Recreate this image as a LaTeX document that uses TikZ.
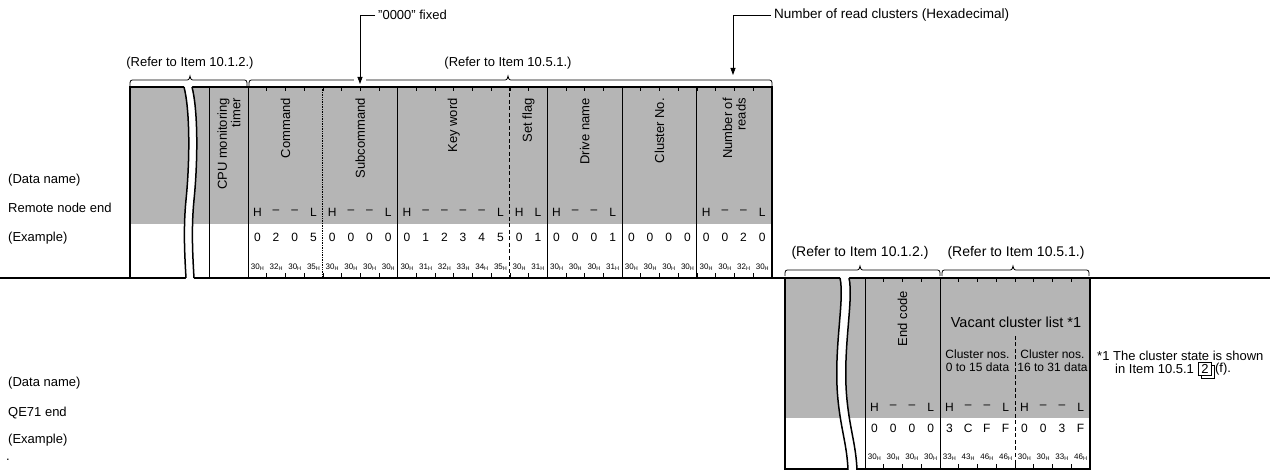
\documentclass[tikz,border=0pt]{standalone}
\usepackage{fontspec}
\setmainfont{Liberation Sans}
\usetikzlibrary{arrows.meta,shadows,calc}
\definecolor{shd}{gray}{0.71}
\newcommand\mybrc[4]{\draw[brc] (#1,#4+6) .. controls (#1,#4) .. (#1+5,#4) -- (#3-5,#4) .. controls (#3-1,#4) .. (#3,#4-4) .. controls (#3+1,#4) .. (#3+5,#4) -- (#2-5,#4) .. controls (#2,#4) .. (#2,#4+6);}
\newcommand\hsub[1]{#1\raisebox{-1.3pt}{\fontsize{5.5}{5.5}\selectfont H}}
\begin{document}
\begin{tikzpicture}[x=1pt,y=-1pt,
  lbl/.style={font=\fontsize{13}{14}\selectfont, inner sep=0pt},
  vlbl/.style={font=\fontsize{13}{13.5}\selectfont, inner sep=0pt, rotate=90, anchor=east, align=right},
  chr/.style={font=\fontsize{12}{12}\selectfont, inner sep=0pt},
  hxs/.style={font=\fontsize{8}{8}\selectfont, inner sep=0pt},
  frm/.style={line width=1.4pt},
  col/.style={line width=1pt},
  thn/.style={line width=0.7pt},
  dsh/.style={line width=0.7pt, dash pattern=on 4pt off 2.5pt},
  arr/.style={line width=0.8pt, -{Triangle[length=7pt,width=5pt]}},
  brc/.style={line width=0.8pt},
  tck/.style={line width=0.6pt},
  brk/.style={line width=1.5pt}]
\useasboundingbox (0,0) rectangle (1270,470);

% ---------- top frame (remote node end) ----------
\fill[shd] (130,87) rectangle (772,224);
\draw[col] (209,87) -- (209,278);
\draw[col] (248,87) -- (248,278);
\draw[thn, densely dotted] (322.8,87) -- (322.8,278);
\draw[thn] (397.6,87) -- (397.6,278);
\draw[dsh] (509.8,87) -- (509.8,278);
\draw[col] (547.2,87) -- (547.2,278);
\draw[thn] (622,87) -- (622,278);
\draw[col] (696.8,87) -- (696.8,278);
\foreach \k in {1,...,27} {
  \draw[tck] (248+\k*18.7,87) -- ++(0,4);
  \draw[tck] (248+\k*18.7,278) -- ++(0,-5);
}
\draw[frm] (130,278) -- (130,87) -- (772,87) -- (772,278);
\draw[line width=1.8pt] (0,278) -- (1270,278);

% break (top)
\fill[white] (184,86) .. controls (190,110) and (190,160) .. (186,200) .. controls (183,230) and (185,260) .. (186,279) -- (194,279) .. controls (193,260) and (191,230) .. (194,200) .. controls (198,160) and (198,110) .. (192,86) -- cycle;
\draw[brk] (184,87) .. controls (190,110) and (190,160) .. (186,200) .. controls (183,230) and (185,260) .. (186,278);
\draw[brk] (192,87) .. controls (198,110) and (198,160) .. (194,200) .. controls (191,230) and (193,260) .. (194,278);

% rotated data names
\node[vlbl] (cpu) at (229,98) {CPU monitoring\\timer};
\node[vlbl] (cmd) at (285.4,98) {Command};
\node[vlbl] (sub) at (360.2,98) {Subcommand};
\node[vlbl] (kw) at (453.7,98) {Key word};
\node[vlbl] (sf) at (528.5,98) {Set flag};
\node[vlbl] (dn) at (584.6,98) {Drive name};
\node[vlbl] (cn) at (659.4,98) {Cluster No.};
\node[vlbl] (nr) at (734.2,98) {Number of\\reads};

% characters
\foreach \cs/\hl/\dg/\hx [count=\k] in {
 248/{H,--,--,L}/{0,2,0,5}/{30,32,30,35},
 322.8/{H,--,--,L}/{0,0,0,0}/{30,30,30,30},
 397.6/{H,--,--,--,--,L}/{0,1,2,3,4,5}/{30,31,32,33,34,35},
 509.8/{H,L}/{0,1}/{30,31},
 547.2/{H,--,--,L}/{0,0,0,1}/{30,30,30,31},
 622/{\relax,\relax,\relax,\relax}/{0,0,0,0}/{30,30,30,30},
 696.8/{H,--,--,L}/{0,0,2,0}/{30,30,32,30}} {
  \foreach \c [count=\i] in \hl {\node[chr] (th\k-\i) at (\cs+\i*18.7-9.35,212) {\c};}
  \foreach \c [count=\i] in \dg {\node[chr] (td\k-\i) at (\cs+\i*18.7-9.35,237) {\c};}
  \foreach \c [count=\i] in \hx {\node[hxs] (tx\k-\i) at (\cs+\i*18.7-9.35,267) {\hsub{\c}};}
}

% braces and references (top)
\mybrc{130}{247}{190}{80}
\mybrc{249}{772}{508}{80}
\node[lbl] (r1) at (190,63) {(Refer to Item 10.1.2.)};
\node[lbl] (r2) at (508,63) {(Refer to Item 10.5.1.)};
\fill[white] (354,77) rectangle (366,83);

% annotations with arrows
\node[lbl, anchor=west, inner xsep=3pt] (fix) at (375,15) {"0000" fixed};
\coordinate (fixtip) at (360,84);
\draw[arr] (fix.west) -| (fixtip);
\node[lbl, font=\fontsize{13.5}{14}\selectfont, anchor=west, inner xsep=3pt] (nrc) at (771,15) {Number of read clusters (Hexadecimal)};
\coordinate (nrtip) at (733,75);
\draw[arr] (nrc.west) -| (nrtip);

% ---------- bottom frame (QE71 end) ----------
\fill[shd] (785,278) rectangle (1090,418);
\draw[col] (865,278) -- (865,469);
\draw[col] (940,278) -- (940,469);
\draw[dsh] (1015,336) -- (1015,469);
\foreach \k in {1,...,11} {
  \draw[tck] (865+\k*18.75,278) -- ++(0,4);
  \draw[tck] (865+\k*18.75,469) -- ++(0,-5);
}
\draw[frm] (785,278) -- (785,469) -- (1090,469) -- (1090,278);
\draw[line width=1.8pt] (780,278) -- (1095,278);

% break (bottom)
\fill[white] (840,277) .. controls (845,300) and (833,350) .. (838,400) .. controls (841,430) and (847,445) .. (848,471) -- (857,471) .. controls (856,445) and (850,430) .. (847,400) .. controls (842,350) and (854,300) .. (849,277) -- cycle;
\draw[brk] (840,278) .. controls (845,300) and (833,350) .. (838,400) .. controls (841,430) and (847,445) .. (848,470);
\draw[brk] (849,278) .. controls (854,300) and (842,350) .. (847,400) .. controls (850,430) and (856,445) .. (857,470);

\node[vlbl] (ec) at (902.5,291) {End code};
\node[lbl, font=\fontsize{14.5}{15}\selectfont] (vcl) at (1016,322) {Vacant cluster list *1};
\node[font=\fontsize{12}{13}\selectfont, inner sep=0pt, align=center] (cl1) at (977.5,361) {Cluster nos.\\0 to 15 data};
\node[font=\fontsize{12}{13}\selectfont, inner sep=0pt, align=center] (cl2) at (1052.5,361) {Cluster nos.\\16 to 31 data};

\foreach \cs/\hl/\dg/\hx [count=\k] in {
 865/{H,--,--,L}/{0,0,0,0}/{30,30,30,30},
 940/{H,--,--,L}/{3,C,F,F}/{33,43,46,46},
 1015/{H,--,--,L}/{0,0,3,F}/{30,30,33,46}} {
  \foreach \c [count=\i] in \hl {\node[chr] (bh\k-\i) at (\cs+\i*18.75-9.375,407) {\c};}
  \foreach \c [count=\i] in \dg {\node[chr] (bd\k-\i) at (\cs+\i*18.75-9.375,428) {\c};}
  \foreach \c [count=\i] in \hx {\node[hxs] (bx\k-\i) at (\cs+\i*18.75-9.375,457) {\hsub{\c}};}
}

\mybrc{785}{940}{860}{270}
\mybrc{942}{1089}{1013}{270}
\node[lbl, font=\fontsize{14}{15}\selectfont] (r3) at (860,253) {(Refer to Item 10.1.2.)};
\node[lbl, font=\fontsize{14}{15}\selectfont] (r4) at (1016,253) {(Refer to Item 10.5.1.)};

% footnote
\node[lbl, anchor=west] (fn1) at (1097,356) {*1 The cluster state is shown};
\node[lbl, anchor=west] (fn2) at (1115,369) {in Item 10.5.1};
\node[lbl, anchor=west, draw, line width=0.7pt, fill=white, minimum width=13pt, minimum height=13pt,
  copy shadow={draw, line width=0.7pt, fill=white, shadow xshift=2.5pt, shadow yshift=-2.5pt}] (fnb) at ($(fn2.east)+(4,0)$) {2};
\node[lbl, anchor=west] (fn3) at ($(fnb.east)+(3,0)$) {(f).};

% side labels
\node[lbl, anchor=west] (dn1) at (8,180) {(Data name)};
\node[lbl, anchor=west] (rne) at (8,208) {Remote node end};
\node[lbl, anchor=west] (ex1) at (8,238) {(Example)};
\node[lbl, anchor=west] (dn2) at (8,383) {(Data name)};
\node[lbl, anchor=west] (qe) at (8,413) {QE71 end};
\node[lbl, anchor=west] (ex2) at (8,440) {(Example)};
\node[lbl, anchor=west] (dot) at (6,460) {.};
\end{tikzpicture}
\end{document}
